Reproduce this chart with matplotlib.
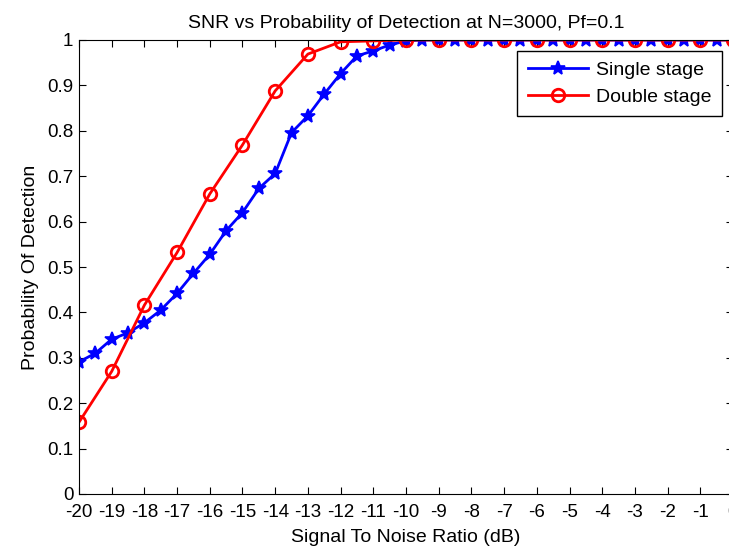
import numpy as np
import matplotlib
matplotlib.use('Agg')
import matplotlib.pyplot as plt
plt.rc('font', family='Liberation Sans', size=14)

snr_single = np.arange(-20, 0.01, 0.5)
pd_single = [0.291, 0.31, 0.341, 0.355, 0.377, 0.405, 0.442, 0.486, 0.528, 0.58,
             0.62, 0.673, 0.706, 0.796, 0.833, 0.881, 0.926, 0.965, 0.976, 0.989,
             0.998] + [1.0] * 20

snr_double = np.arange(-20, 0.01, 1)
pd_double = [0.158, 0.27, 0.416, 0.532, 0.661, 0.769, 0.888, 0.969, 0.996, 0.998] + [1.0] * 11

fig = plt.figure(figsize=(7.29, 5.5), dpi=100)
ax = fig.add_axes([79/729, 56/550, 654/729, 454/550])

ax.plot(snr_single, pd_single, color='b', lw=2, marker='*', ms=10, mew=1.2, label='Single stage')
ax.plot(snr_double, pd_double, color='r', lw=2, marker='o', ms=9, mfc='none', mew=2, label='Double stage')

ax.set_xlim(-20, 0)
ax.set_ylim(0, 1)
ax.set_xticks(np.arange(-20, 1, 1))
ax.set_xticklabels([str(v) for v in range(-20, 1)])
ax.set_yticks(np.arange(0, 1.01, 0.1))
ax.set_yticklabels(['0'] + ['%.1f' % v for v in np.arange(0.1, 0.95, 0.1)] + ['1'])
ax.tick_params(direction='in', top=True, right=True, length=5, pad=4, labelsize=13.5)
ax.tick_params(axis='x', pad=7)

ax.set_title('SNR vs Probability of Detection at N=3000, Pf=0.1', fontsize=14, pad=9)
ax.set_xlabel('Signal To Noise Ratio (dB)', labelpad=6)
ax.set_ylabel('Probability Of Detection', labelpad=6)

leg = ax.legend(loc='upper right', bbox_to_anchor=(722/729, 499/550), bbox_transform=fig.transFigure,
                fancybox=False, edgecolor='k', framealpha=1, fontsize=14, handlelength=3.1,
                handletextpad=0.4, borderpad=0.55, labelspacing=0.45, borderaxespad=0)
leg.get_frame().set_linewidth(1)

fig.savefig('out.png', dpi=100)
